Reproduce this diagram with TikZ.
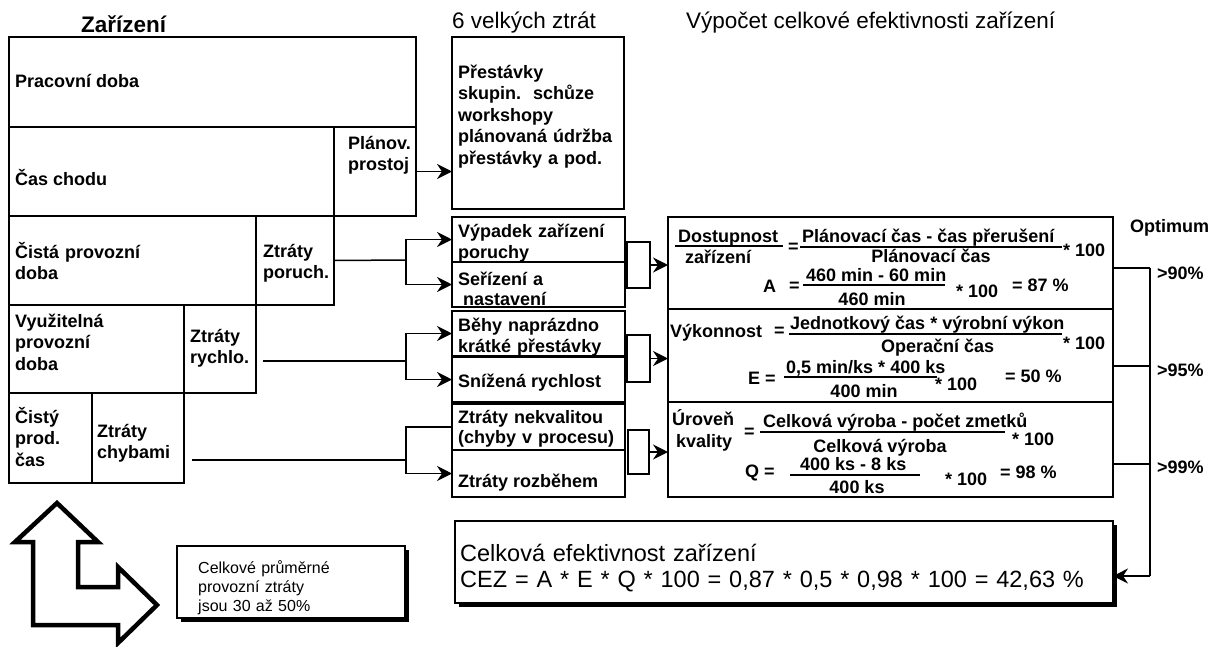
\documentclass[tikz,border=0pt]{standalone}
\usepackage{fontspec}
\setmainfont{Liberation Sans}
\newfontfamily\bxf{Liberation Sans Bold}
\newfontfamily\bdf{Liberation Sans Bold}
\usetikzlibrary{arrows.meta,shadows}
\newcommand\rbx[6][]{\node[box,#1,minimum width={#5-#3},minimum height={#6-#4}] (#2) at (#3,#4) {};}
\begin{document}
\begin{tikzpicture}[x=1pt,y=-1pt,
  box/.style={draw,line width=1.5pt,anchor=north west,inner sep=0pt,outer sep=0pt},
  sbox/.style={box,fill=white,drop shadow={shadow xshift=3.5pt,shadow yshift=-3.5pt,opacity=1,fill=black}},
  txt/.style={anchor=base west,inner sep=0pt,font=\bxf\fontsize{18}{21.5}\selectfont},
  ctxt/.style={txt,anchor=base},
  mtxt/.style={txt,text width=220pt,align=left},
  ttl/.style={anchor=base west,inner sep=0pt,font=\fontsize{22.5}{26}\selectfont},
  ln/.style={line width=1.5pt},
  bar/.style={line width=1.2pt},
  arr/.style={line width=1.5pt,-{Stealth[length=15pt,width=15pt,inset=5pt]}},
]
\useasboundingbox (0,0) rectangle (1214,646);

% ---- titles
\node[anchor=base west,inner sep=0pt,font=\bdf\fontsize{22.5}{25}\selectfont] (tz) at (81,32) {Zařízení};
\node[ttl] (t6) at (452,28) {6 velkých ztrát};
\node[ttl] (tv) at (686,28) {Výpočet celkové efektivnosti zařízení};

% ---- left block
\rbx{pd}{9}{37}{416}{127}
\rbx{cc}{9}{127}{334}{216}
\rbx{pp}{334}{127}{416}{216}
\rbx{cpd}{9}{216}{256}{305}
\rbx{zp}{256}{216}{334}{305}
\rbx{vpd}{9}{305}{184}{393}
\rbx{zr}{184}{305}{256}{393}
\rbx{cpc}{9}{393}{92}{483}
\rbx{zc}{92}{393}{184}{483}

\node[txt] (tpd) at (15,87) {Pracovní doba};
\node[txt] (tcc) at (15,185) {Čas chodu};
\node[mtxt] (tpp) at (348,149) {Plánov.\\prostoj};
\node[mtxt] (tcpd) at (15,258) {Čistá provozní\\doba};
\node[mtxt] (tzp) at (263,257) {Ztráty\\poruch.};
\node[mtxt] (tvpd) at (15,327) {Využitelná\\provozní\\doba};
\node[mtxt] (tzr) at (190,342) {Ztráty\\rychlo.};
\node[mtxt] (tcpc) at (15,423) {Čistý\\prod.\\čas};
\node[mtxt] (tzc) at (97,437) {Ztráty\\chybami};

% ---- six big losses
\rbx{prest}{452}{37}{624}{209}
\node[mtxt] (tprest) at (458,78) {Přestávky\\skupin.~~schůze\\workshopy\\plánovaná údržba\\přestávky a pod.};
\rbx{m1}{452}{217}{625}{262}
\rbx{m2}{452}{262}{625}{307}
\rbx{m3}{452}{311}{625}{356}
\rbx{m4}{452}{357}{625}{402}
\rbx{m5}{452}{404}{625}{450}
\rbx{m6}{452}{450}{625}{497}
\node[mtxt,font=\bxf\fontsize{18}{21}\selectfont] (tm1) at (458,237) {Výpadek zařízení\\poruchy};
\node[mtxt,font=\bxf\fontsize{18}{20}\selectfont] (tm2) at (458,285) {Seřízení a\\\hspace*{5pt}nastavení};
\node[mtxt,font=\bxf\fontsize{18}{21}\selectfont] (tm3) at (458,331) {Běhy naprázdno\\krátké přestávky};
\node[txt] (tm4) at (458,387) {Snížená rychlost};
\node[mtxt,font=\bxf\fontsize{18}{20.5}\selectfont] (tm5) at (458,423) {Ztráty nekvalitou\\(chyby v procesu)};
\node[txt] (tm6) at (458,487) {Ztráty rozběhem};

\rbx{br1}{627}{242}{650}{288}
\rbx{br2}{627}{335}{650}{382}
\rbx{br3}{628}{430}{649}{474}

% ---- formula boxes
\rbx{fA}{668}{217}{1113}{309}
\rbx{fE}{668}{309}{1113}{402}
\rbx{fQ}{668}{402}{1113}{497}

% A
\node[txt] (a1) at (678,242) {Dostupnost};
\node[txt] (a2) at (685,263) {zařízení};
\node[txt] (a3) at (788,252) {=};
\node[txt] (a4) at (802,242) {Plánovací čas - čas přerušení};
\node[ctxt] (a5) at (931,262) {Plánovací čas};
\node[txt] (a6) at (1063,256) {* 100};
\node[txt] (a7) at (763,292) {A};
\node[txt] (a8) at (789,291) {=};
\node[txt] (a9) at (806,281) {460 min - 60 min};
\node[ctxt] (a10) at (872,305) {460 min};
\node[txt] (a11) at (956,297) {* 100};
\node[txt] (a12) at (1012,291) {= 87 \%};
\draw[bar] (675,246) -- (783,246);
\draw[bar] (800,247) -- (1062,247);
\draw[bar] (803,285) -- (945,285);

% E
\node[txt] (e1) at (670,337) {Výkonnost};
\node[txt] (e2) at (774,336) {=};
\node[txt] (e3) at (790,329) {Jednotkový čas * výrobní výkon};
\node[txt] (e4) at (881,352) {Operační čas};
\node[txt] (e5) at (1063,349) {* 100};
\node[txt] (e6) at (748,384) {E =};
\node[txt] (e7) at (786,373) {0,5 min/ks * 400 ks};
\node[ctxt] (e8) at (864,397) {400 min};
\node[txt] (e9) at (935,390) {* 100};
\node[txt] (e10) at (1005,382) {= 50 \%};
\draw[bar] (789,334) -- (1062,334);
\draw[bar] (784,377) -- (937,377);

% Q
\node[txt] (q1) at (672,425) {Úroveň};
\node[txt] (q2) at (676,447) {kvality};
\node[txt] (q3) at (744,437) {=};
\node[txt] (q4) at (763,427) {Celková výroba - počet zmetků};
\node[ctxt] (q5) at (880,452) {Celková výroba};
\node[txt] (q6) at (1012,445) {* 100};
\node[txt] (q7) at (745,477) {Q =};
\node[txt] (q8) at (800,470) {400 ks - 8 ks};
\node[ctxt] (q9) at (857,493) {400 ks};
\node[txt] (q10) at (945,485) {* 100};
\node[txt] (q11) at (1000,478) {= 98 \%};
\draw[bar] (760,432) -- (1005,432);
\draw[bar] (790,475) -- (920,475);

% optimum labels
\node[txt] (op) at (1130,232) {Optimum};
\node[txt] (o1) at (1157,279) {>90\%};
\node[txt] (o2) at (1157,376) {>95\%};
\node[txt] (o3) at (1157,473) {>99\%};

% ---- result box
\node[sbox,minimum width=658,minimum height=82] (cel) at (455,521) {};
\node[anchor=base west,inner sep=0pt,text width=640pt,align=left,font=\fontsize{23.5}{26}\selectfont] (tcel) at (460,561)
  {Celková efektivnost zařízení\\CEZ = A * E * Q * 100 = 0,87 * 0,5 * 0,98 * 100 = 42,63 \%};

% ---- note box
\node[sbox,minimum width=228,minimum height=72] (note) at (177,546) {};
\node[anchor=base west,inner sep=0pt,text width=200pt,align=left,font=\fontsize{16}{19}\selectfont] (tnote) at (198,573)
  {Celkové průměrné\\provozní ztráty\\jsou 30 až 50\%};

% ---- L-shaped double arrow
\draw[line width=4.5pt,miter limit=10] (57,503) -- (98,542) -- (78,542) -- (78,587) -- (118,587) -- (118,567)
  -- (157,605) -- (118,643) -- (118,625) -- (33,625) -- (33,542) -- (15,542) -- cycle;

% ---- connectors
\draw[arr] (pp.east) -- (pp.east -| prest.west);

\coordinate (j1) at (406,260);
\draw[ln] (zp.east) -- (j1);
\draw[arr] (j1) |- (m1.west);
\draw[arr] (j1) |- (m2.west);

\coordinate (s2) at (263,361);
\coordinate (j2) at (406,361);
\draw[ln] (s2) -- (j2);
\draw[arr] (j2) |- (m3.west);
\draw[arr] (j2) |- (m4.west);

\coordinate (s3) at (192,460);
\coordinate (j3) at (406,460);
\draw[ln] (s3) -- (j3);
\draw[ln] (j3) |- (m5.west);
\draw[arr] (j3) |- (m6.west);

\draw[arr] (br1.east) -- (br1.east -| fA.west);
\draw[arr] (br2.east) -- (br2.east -| fE.west);
\draw[arr] (br3.east) -- (br3.east -| fQ.west);

\coordinate (oA) at (1150,268);
\coordinate (oE) at (1150,366);
\coordinate (oQ) at (1150,464);
\coordinate (oC) at (1150,576);
\draw[ln] (oA -| fA.east) -- (oA);
\draw[ln] (oE -| fE.east) -- (oE);
\draw[ln] (oQ -| fQ.east) -- (oQ);
\draw[ln] (oA) -- (oC);
\draw[arr] (oC) -- (oC -| cel.east);
\end{tikzpicture}
\end{document}
